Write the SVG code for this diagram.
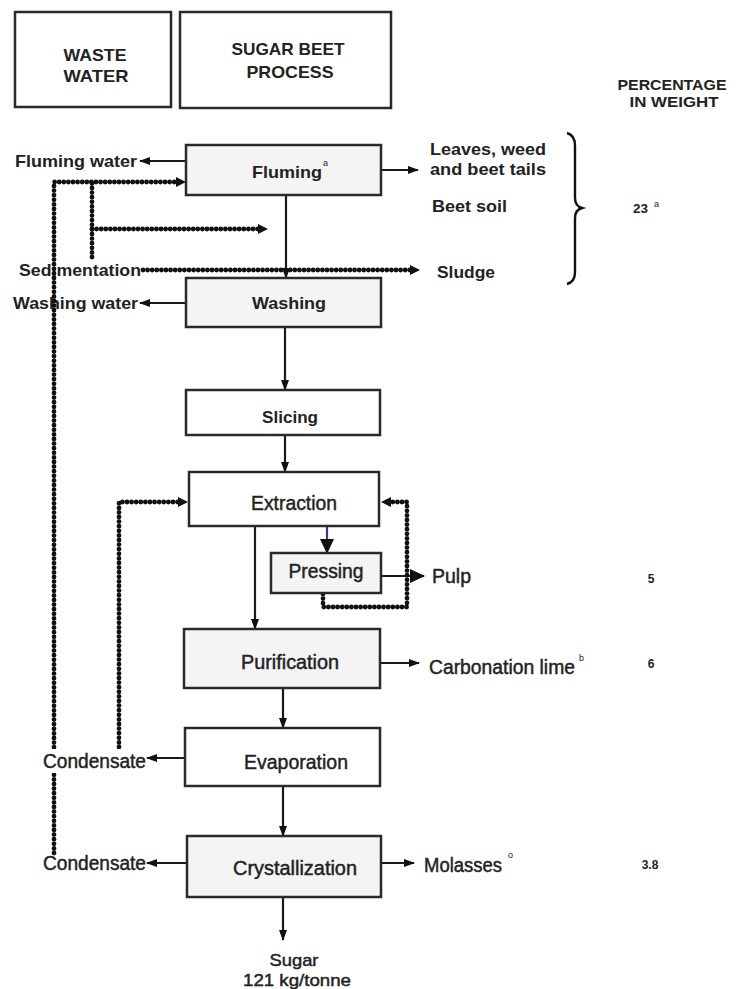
<svg xmlns="http://www.w3.org/2000/svg" width="739" height="989" viewBox="0 0 739 989">
  <style>
    .box { stroke: #2a2a2a; stroke-width: 2.5; }
    .grey { fill: #f4f4f4; }
    .white { fill: #ffffff; }
    .t { font-family: "Liberation Sans", Arial, sans-serif; fill: #222; }
    .b { font-weight: bold; font-size: 17px; }
    .n { font-size: 20px; stroke: #222; stroke-width: 0.45; }
    .hd { font-weight: bold; font-size: 17px; }
    .pc { font-weight: bold; font-size: 15px; }
    .sm { font-size: 12px; font-weight: bold; }
    .sup { font-size: 9px; }
    .sg { font-size: 17px; stroke: #222; stroke-width: 0.45; }
    .flow { stroke: #1a1a1a; stroke-width: 2.2; fill: none; }
    .dot { stroke: #111; stroke-width: 4.8; stroke-dasharray: 0 4.6; stroke-linecap: round; stroke-linejoin: round; fill: none; }
  </style>
  <defs>
    <marker id="arr" markerUnits="userSpaceOnUse" markerWidth="11" markerHeight="10" viewBox="0 0 11 10" refX="10" refY="5" orient="auto">
      <path d="M0,1 L11,5 L0,9 z" fill="#111"/>
    </marker>
    <marker id="arrBig" markerUnits="userSpaceOnUse" markerWidth="15" markerHeight="14" viewBox="0 0 15 14" refX="14" refY="7" orient="auto">
      <path d="M0,0 L15,7 L0,14 z" fill="#111"/>
    </marker>
  </defs>

  <rect width="739" height="989" fill="#ffffff"/>

  <!-- column headings -->
  <g id="head-waste">
    <rect class="box white" x="15" y="12" width="156" height="95"/>
    <text class="t hd" x="95" y="61" text-anchor="middle" textLength="63" lengthAdjust="spacingAndGlyphs">WASTE</text>
    <text class="t hd" x="96" y="82" text-anchor="middle" textLength="65" lengthAdjust="spacingAndGlyphs">WATER</text>
  </g>
  <g id="head-process">
    <rect class="box white" x="180" y="12" width="211" height="96"/>
    <text class="t hd" x="288" y="55" text-anchor="middle" textLength="113" lengthAdjust="spacingAndGlyphs">SUGAR BEET</text>
    <text class="t hd" x="290" y="78" text-anchor="middle" textLength="87" lengthAdjust="spacingAndGlyphs">PROCESS</text>
  </g>
  <g id="head-percent">
    <text class="t pc" x="672" y="90" text-anchor="middle" textLength="109" lengthAdjust="spacingAndGlyphs">PERCENTAGE</text>
    <text class="t pc" x="674" y="107" text-anchor="middle" textLength="89" lengthAdjust="spacingAndGlyphs">IN WEIGHT</text>
  </g>

  <!-- waste-water labels that the return line runs across -->
  <g id="lbl-sedimentation">
    <text class="t b" x="19" y="276" textLength="122" lengthAdjust="spacingAndGlyphs">Sedimentation</text>
  </g>
  <g id="lbl-washing-water">
    <text class="t b" x="13" y="309" textLength="125" lengthAdjust="spacingAndGlyphs">Washing water</text>
  </g>

  <!-- connectors -->
  <g id="connectors">
    <!-- main product line -->
    <line class="flow" x1="186" y1="161" x2="140" y2="161" marker-end="url(#arr)"/>
    <line class="flow" x1="381" y1="170" x2="418" y2="170" marker-end="url(#arr)"/>
    <line class="flow" x1="286" y1="195" x2="286" y2="278" marker-end="url(#arr)"/>
    <line class="flow" x1="186" y1="303" x2="140" y2="303" marker-end="url(#arr)"/>
    <line class="flow" x1="285" y1="327" x2="285" y2="390" marker-end="url(#arr)"/>
    <line class="flow" x1="285" y1="435" x2="285" y2="472" marker-end="url(#arr)"/>
    <line x1="327" y1="527" x2="327" y2="553" stroke="#3a3a8a" stroke-width="2.2" marker-end="url(#arrBig)"/>
    <line class="flow" x1="381" y1="576" x2="424" y2="576" marker-end="url(#arrBig)"/>
    <line class="flow" x1="255" y1="527" x2="255" y2="629" marker-end="url(#arr)"/>
    <line class="flow" x1="380" y1="663" x2="419" y2="663" marker-end="url(#arr)"/>
    <line class="flow" x1="283" y1="688" x2="283" y2="728" marker-end="url(#arr)"/>
    <line class="flow" x1="185" y1="758" x2="147" y2="758" marker-end="url(#arr)"/>
    <line class="flow" x1="283" y1="786" x2="283" y2="836" marker-end="url(#arr)"/>
    <line class="flow" x1="187" y1="863" x2="147" y2="863" marker-end="url(#arr)"/>
    <line class="flow" x1="381" y1="863" x2="414" y2="863" marker-end="url(#arr)"/>
    <line class="flow" x1="283" y1="897" x2="283" y2="940" marker-end="url(#arr)"/>

    <!-- water recycling (dotted) -->
    <path class="dot" d="M54,853 L54,182 L178,182"/>
    <path d="M186,182 L176,177 L176,187 z" fill="#111"/>
    <path class="dot" d="M92,257 L92,182"/>
    <path class="dot" d="M92,229 L260,229"/>
    <path d="M268,229 L258,224 L258,234 z" fill="#111"/>
    <path class="dot" d="M143,270 L412,270"/>
    <path d="M420,270 L410,265 L410,275 z" fill="#111"/>
    <path class="dot" d="M119,747 L119,502 L180,502"/>
    <path d="M188,502 L178,497 L178,507 z" fill="#111"/>
    <path class="dot" d="M323,594 L323,607 L407,607 L407,502 L389,502"/>
    <path d="M381,502 L391,497 L391,507 z" fill="#111"/>
  </g>

  <!-- process steps -->
  <g id="fluming">
    <rect class="box grey" x="186" y="145" width="195" height="50"/>
    <text class="t b" x="287" y="178" text-anchor="middle" textLength="70" lengthAdjust="spacingAndGlyphs">Fluming</text>
    <text class="t sup" x="323" y="166">a</text>
  </g>
  <g id="lbl-fluming-water">
    <text class="t b" x="15" y="167" textLength="122" lengthAdjust="spacingAndGlyphs">Fluming water</text>
  </g>
  <g id="lbl-leaves">
    <text class="t b" x="430" y="155" textLength="116" lengthAdjust="spacingAndGlyphs">Leaves, weed</text>
    <text class="t b" x="430" y="175" textLength="116" lengthAdjust="spacingAndGlyphs">and beet tails</text>
  </g>
  <g id="lbl-beet-soil">
    <text class="t b" x="432" y="212" textLength="75" lengthAdjust="spacingAndGlyphs">Beet soil</text>
  </g>
  <g id="lbl-sludge">
    <text class="t b" x="437" y="278" textLength="58" lengthAdjust="spacingAndGlyphs">Sludge</text>
  </g>
  <g id="brace-23">
    <path d="M567,133 Q575,135 575,146 L575,198 Q575,206 582,208 Q575,210 575,218 L575,272 Q575,282 567,284" fill="none" stroke="#111" stroke-width="2.4"/>
    <text class="t sm" x="633" y="213" textLength="15" lengthAdjust="spacingAndGlyphs">23</text>
    <text class="t sup" x="654" y="207">a</text>
  </g>

  <g id="washing">
    <rect class="box grey" x="186" y="278" width="195" height="49"/>
    <text class="t b" x="289" y="309" text-anchor="middle" textLength="74" lengthAdjust="spacingAndGlyphs">Washing</text>
  </g>
  <g id="slicing">
    <rect class="box white" x="186" y="390" width="194" height="45"/>
    <text class="t b" x="290" y="423" text-anchor="middle" textLength="56" lengthAdjust="spacingAndGlyphs">Slicing</text>
  </g>
  <g id="extraction">
    <rect class="box white" x="189" y="472" width="190" height="54"/>
    <text class="t n" x="294" y="510" text-anchor="middle" textLength="86" lengthAdjust="spacingAndGlyphs">Extraction</text>
  </g>
  <g id="pressing">
    <rect class="box grey" x="271" y="553" width="110" height="40"/>
    <text class="t n" x="326" y="578" text-anchor="middle" textLength="75" lengthAdjust="spacingAndGlyphs">Pressing</text>
  </g>
  <g id="lbl-pulp">
    <text class="t n" x="432" y="583" textLength="39" lengthAdjust="spacingAndGlyphs">Pulp</text>
    <text class="t sm" x="651" y="583" text-anchor="middle">5</text>
  </g>
  <g id="purification">
    <rect class="box grey" x="184" y="629" width="196" height="59"/>
    <text class="t n" x="290" y="669" text-anchor="middle" textLength="98" lengthAdjust="spacingAndGlyphs">Purification</text>
  </g>
  <g id="lbl-carbonation">
    <text class="t n" x="429" y="674" textLength="146" lengthAdjust="spacingAndGlyphs">Carbonation lime</text>
    <text class="t sup" x="579" y="661">b</text>
    <text class="t sm" x="651" y="668" text-anchor="middle">6</text>
  </g>
  <g id="evaporation">
    <rect class="box white" x="185" y="728" width="195" height="58"/>
    <text class="t n" x="296" y="769" text-anchor="middle" textLength="104" lengthAdjust="spacingAndGlyphs">Evaporation</text>
  </g>
  <g id="lbl-condensate-1">
    <rect x="42" y="749" width="104" height="24" fill="#ffffff"/>
    <text class="t n" x="43" y="768" textLength="103" lengthAdjust="spacingAndGlyphs">Condensate</text>
  </g>
  <g id="crystallization">
    <rect class="box grey" x="187" y="836" width="194" height="61"/>
    <text class="t n" x="295" y="875" text-anchor="middle" textLength="124" lengthAdjust="spacingAndGlyphs">Crystallization</text>
  </g>
  <g id="lbl-condensate-2">
    <text class="t n" x="43" y="870" textLength="103" lengthAdjust="spacingAndGlyphs">Condensate</text>
  </g>
  <g id="lbl-molasses">
    <text class="t n" x="424" y="872" textLength="78" lengthAdjust="spacingAndGlyphs">Molasses</text>
    <text class="t sup" x="508" y="858">o</text>
    <text class="t sm" x="650" y="869" text-anchor="middle">3.8</text>
  </g>
  <g id="lbl-sugar">
    <text class="t sg" x="294" y="966" text-anchor="middle" textLength="49" lengthAdjust="spacingAndGlyphs">Sugar</text>
    <text class="t sg" x="297" y="986" text-anchor="middle" textLength="108" lengthAdjust="spacingAndGlyphs">121 kg/tonne</text>
  </g>
</svg>
